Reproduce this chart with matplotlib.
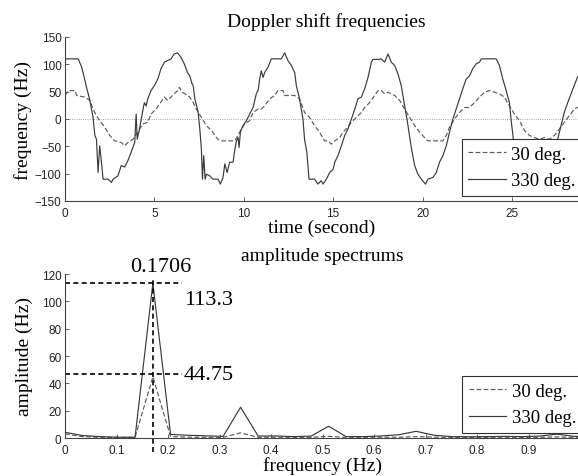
import numpy as np
import matplotlib.pyplot as plt

# --- Doppler shift time series ---
t_330 = [0.0, 0.74, 0.93, 1.10, 1.20, 1.30, 1.39, 1.48, 1.57, 1.67, 1.76, 1.85, 1.94, 2.04, 2.13,
         2.40, 2.60, 2.69, 2.96, 3.15, 3.33, 3.52, 3.70, 3.90, 3.98, 4.04, 4.17, 4.35, 4.44, 4.54,
         4.63, 4.81, 5.00, 5.19, 5.37, 5.56, 5.74, 5.93, 6.11, 6.30, 6.48, 6.67, 6.85, 6.98, 7.10,
         7.17, 7.26, 7.45, 7.54, 7.63, 7.69, 7.76, 7.84, 7.91, 8.10, 8.28, 8.56, 8.69, 8.84, 8.94,
         9.07, 9.21, 9.40, 9.49, 9.59, 9.68, 9.74, 9.81, 9.96, 10.15, 10.33, 10.52, 10.70, 10.80,
         10.89, 10.98, 11.08, 11.17, 11.36, 11.54, 12.10, 12.29, 12.47, 12.66, 12.85, 12.94, 13.12,
         13.31, 13.40, 13.53, 13.65, 13.96, 14.15, 14.33, 14.44, 14.62, 14.81, 15.00, 15.09, 15.27,
         15.46, 15.65, 15.83, 16.02, 16.21, 16.39, 16.58, 16.76, 16.95, 17.14, 17.23, 17.51, 17.69,
         17.88, 18.07, 18.25, 18.44, 18.63, 18.81, 19.00, 19.13, 19.24, 19.37, 19.56, 19.74, 19.93,
         20.17, 20.30, 20.58, 20.77, 20.95, 21.14, 21.33, 21.51, 21.70, 21.88, 22.07, 22.25, 22.44,
         22.63, 22.81, 23.00, 23.19, 23.28, 24.12, 24.30, 24.49, 24.68, 24.86, 24.95, 25.08, 25.25,
         25.45, 26.00, 26.60, 27.10, 27.40, 27.56, 27.75, 27.93, 28.12, 28.31, 28.49, 28.66, 28.90]
f_330 = [110, 110, 95, 73, 58, 46, 34, 18, 3, -30, -37, -98, -49, -79, -110,
         -110, -116, -110, -104, -85, -88, -76, -61, -43, 9, -37, -18, 15, 30, 24,
         37, 52, 61, 73, 92, 104, 107, 110, 119, 121, 113, 101, 85, 79, 65,
         61, 37, 12, -18, -55, -110, -67, -110, -101, -104, -110, -110, -119, -107, -82,
         -98, -79, -79, -58, -40, -34, -52, -24, -12, -3, 9, 21, 46, 52,
         73, 88, 76, 85, 95, 110, 110, 121, 107, 98, 85, 61, 37,
         0, -37, -61, -110, -110, -119, -113, -119, -110, -98, -92, -79, -67,
         -49, -30, -18, 0, 18, 37, 40, 55, 76, 104, 109, 109, 110,
         104, 119, 104, 98, 82, 61, 24, 0, -24, -52, -85, -101, -110,
         -119, -110, -107, -98, -79, -67, -49, -24, 0, 18, 37, 55, 73,
         79, 92, 101, 104, 110, 110, 98, 73, 52, 30, 0, -37, -80,
         -108, -112, -108, -95, -60, -37, -12, 12, 30, 46, 61, 76, 90]

t_30 = [0.0, 0.19, 0.56, 0.65, 1.10, 1.39, 1.57, 1.76, 1.94, 2.22, 2.50, 2.78, 3.15, 3.33, 3.52,
        3.80, 4.07, 4.35, 4.63, 4.81, 5.09, 5.28, 5.56, 5.74, 6.02, 6.30, 6.39, 6.57, 6.85, 6.98,
        7.17, 7.35, 7.63, 7.91, 8.19, 8.47, 8.66, 9.49, 9.68, 9.87, 10.05, 10.33, 10.52, 10.80,
        10.98, 11.17, 11.45, 11.73, 11.91, 12.19, 12.29, 12.85, 13.12, 13.40, 13.68, 13.96, 14.24,
        14.52, 14.72, 14.90, 15.09, 15.37, 15.55, 15.74, 16.02, 16.30, 16.58, 16.76, 17.04, 17.32,
        17.51, 17.69, 17.88, 18.07, 18.25, 18.44, 18.72, 19.00, 19.28, 19.56, 19.84, 20.11, 20.30,
        21.14, 21.33, 21.51, 21.79, 22.07, 22.35, 22.63, 22.91, 23.19, 23.47, 23.74, 24.02, 24.30,
        24.58, 24.86, 25.14, 25.42, 25.70, 25.98, 26.26, 26.54, 26.82, 27.10, 27.38, 27.66, 27.93,
        28.21, 28.49, 28.66, 28.90]
f_30 = [43, 52, 52, 43, 40, 34, 18, 6, -3, -15, -30, -40, -43, -49, -43,
        -37, -24, -9, -6, 9, 18, 27, 40, 34, 43, 52, 58, 49, 43, 40,
        30, 18, 3, -12, -21, -34, -40, -40, -30, -18, -9, -3, 12, 18,
        18, 24, 37, 43, 52, 52, 43, 43, 37, 12, 3, -12, -24,
        -40, -40, -46, -40, -34, -24, -18, -6, 3, 12, 21, 30, 43,
        52, 52, 46, 49, 46, 43, 34, 18, 3, -12, -24, -34, -40,
        -40, -30, -15, 0, 12, 21, 21, 30, 40, 49, 52, 49, 46,
        40, 24, 9, -3, -21, -30, -34, -37, -34, -37, -30, -18, -6,
        6, 18, 21, 25]

# --- amplitude spectra ---
freq = [0.0, 0.034, 0.068, 0.102, 0.136, 0.1706, 0.205, 0.239, 0.273, 0.307, 0.341, 0.375,
        0.409, 0.444, 0.478, 0.512, 0.546, 0.580, 0.614, 0.648, 0.682, 0.717, 0.751, 0.785,
        0.819, 0.853, 0.887, 0.921, 0.955, 0.989, 1.024]
amp_330 = [4.2, 1.8, 1.0, 0.6, 0.5, 113.3, 2.6, 2.0, 1.6, 1.2, 22.5, 1.4,
           1.5, 1.0, 1.4, 8.6, 1.0, 1.0, 1.5, 2.4, 4.9, 2.0, 1.0, 0.9,
           1.0, 1.2, 1.0, 1.4, 2.8, 1.2, 1.0]
amp_30 = [3.0, 1.0, 0.5, 0.3, 0.5, 44.75, 1.0, 0.6, 0.5, 0.5, 3.8, 0.5,
          0.6, 0.5, 0.5, 1.2, 0.5, 0.5, 0.6, 0.6, 1.0, 0.6, 0.5, 0.5,
          0.5, 0.6, 0.5, 0.5, 0.8, 0.5, 0.5]

PEAK_F = 0.1706
PEAK_330 = 113.3
PEAK_30 = 44.75

SERIF = ['Liberation Serif', 'DejaVu Serif']
SANS = ['Liberation Sans', 'DejaVu Sans']
C_SOLID = '#3a3a3a'
C_DASH = '#5a5a5a'

W, H = 578, 477
fig = plt.figure(figsize=(W / 100, H / 100), dpi=100)
ax1 = fig.add_axes([65 / W, 1 - 202 / H, 522 / W, 164 / H])
ax2 = fig.add_axes([65 / W, 1 - 439 / H, 515 / W, 164 / H])

for ax in (ax1, ax2):
    for s in ('top', 'right'):
        ax.spines[s].set_visible(False)
    for s in ('left', 'bottom'):
        ax.spines[s].set_color('#444444')
        ax.spines[s].set_linewidth(0.8)
    ax.tick_params(direction='in', length=3, width=0.6, colors='#444444',
                   labelcolor='#222222', labelsize=8.5, pad=2.5)
    ax.tick_params(axis='x', pad=4.5)

# top: Doppler shift frequencies
ax1.axhline(0, color='#8a8a8a', lw=0.6, ls=':', zorder=1)
ax1.plot(t_30, f_30, color=C_DASH, lw=0.85, dashes=(4, 2), label='30 deg.')
ax1.plot(t_330, f_330, color=C_SOLID, lw=0.85, label='330 deg.')
ax1.set_xlim(0, 29.2)
ax1.set_ylim(-150, 150)
ax1.set_xticks([0, 5, 10, 15, 20, 25])
ax1.set_yticks([-150, -100, -50, 0, 50, 100, 150])
ax1.set_title('Doppler shift frequencies', family=SERIF, fontsize=14, pad=8)
ax1.set_xlabel('time (second)', family=SERIF, fontsize=14)
ax1.set_ylabel('frequency (Hz)', family=SERIF, fontsize=14)
ax1.xaxis.set_label_coords(0.492, -0.108)
ax1.yaxis.set_label_coords(-0.063, 0.5)

# bottom: amplitude spectrums
ax2.plot(freq, amp_30, color=C_DASH, lw=0.85, dashes=(4, 2), label='30 deg.')
ax2.plot(freq, amp_330, color=C_SOLID, lw=0.85, label='330 deg.')
ax2.set_xlim(0, 1.0)
ax2.set_ylim(0, 120)
ax2.set_xticks(np.round(np.arange(0, 1.0, 0.1), 1))
ax2.set_xticklabels(['0', '0.1', '0.2', '0.3', '0.4', '0.5', '0.6', '0.7', '0.8', '0.9'])
ax2.set_yticks([0, 20, 40, 60, 80, 100, 120])
ax2.set_title('amplitude spectrums', family=SERIF, fontsize=14, pad=10)
ax2.set_xlabel('frequency (Hz)', family=SERIF, fontsize=14)
ax2.set_ylabel('amplitude (Hz)', family=SERIF, fontsize=14)
ax2.xaxis.set_label_coords(0.5, -0.112)
ax2.yaxis.set_label_coords(-0.063, 0.5)

for ax in (ax1, ax2):
    for lab in ax.get_xticklabels() + ax.get_yticklabels():
        lab.set_family(SANS)

# peak markers
ax2.plot([PEAK_F, PEAK_F], [-10, 118], color='black', lw=1.2, ls=(0, (3, 2)), clip_on=False)
ax2.plot([0, 0.227], [PEAK_330, PEAK_330], color='black', lw=1.2, ls=(0, (3, 2)), clip_on=False)
ax2.plot([0, 0.227], [PEAK_30 + 2, PEAK_30 + 2], color='black', lw=1.2, ls=(0, (3, 2)), clip_on=False)
ax2.text(0.186, 122, f'{PEAK_F:.4f}', family=SERIF, fontsize=16, ha='center', va='baseline')
ax2.text(0.231, 98, f'{PEAK_330}', family=SERIF, fontsize=16, ha='left', va='baseline')
ax2.text(0.231, PEAK_30 + 2, f'{PEAK_30}', family=SERIF, fontsize=16, ha='left', va='center')

leg_kw = dict(loc='upper left', borderaxespad=0, fancybox=False, framealpha=1,
              edgecolor='#333333', handlelength=2.0, handletextpad=0.3,
              borderpad=0.35, labelspacing=0.5, prop={'family': SERIF, 'size': 13.5})
l1 = ax1.legend(bbox_to_anchor=(0.76, 0.378), **leg_kw)
l2 = ax2.legend(bbox_to_anchor=(0.771, 0.378), **leg_kw)
for lg in (l1, l2):
    lg.get_frame().set_linewidth(0.8)

plt.savefig('out.png', dpi=100)
